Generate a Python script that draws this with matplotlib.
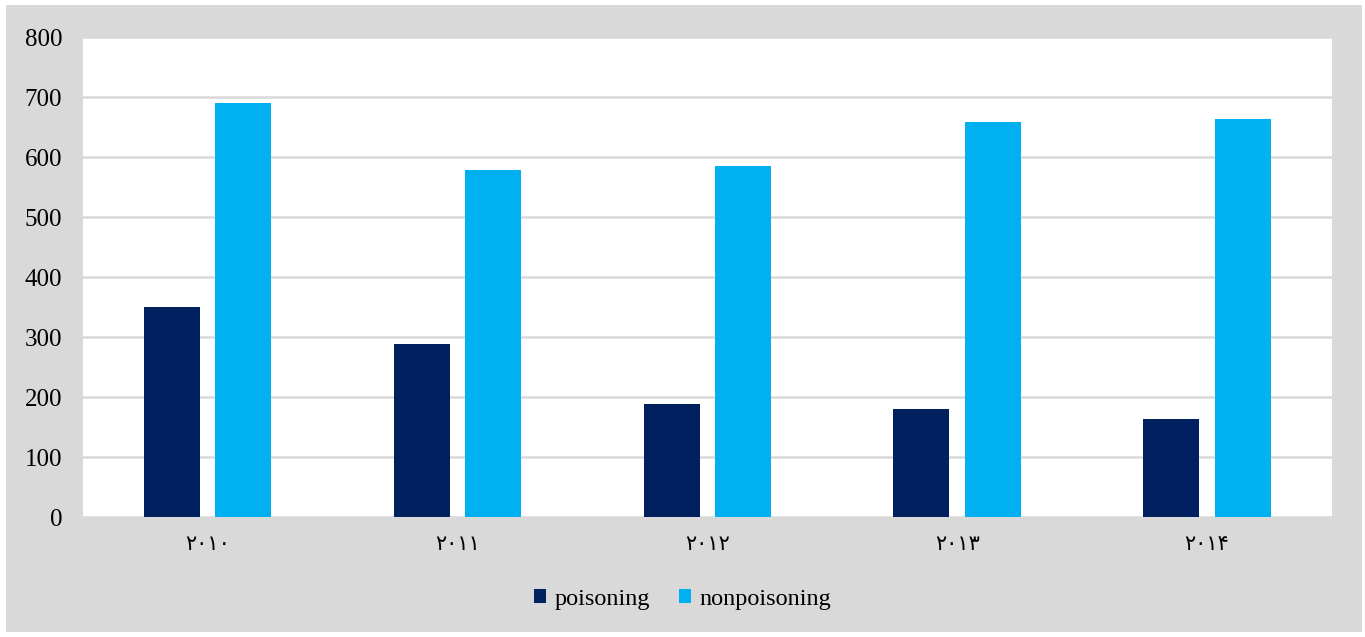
import numpy as np
import matplotlib.pyplot as plt
from matplotlib.patches import Rectangle

years = ["۲۰۱۰", "۲۰۱۱", "۲۰۱۲", "۲۰۱۳", "۲۰۱۴"]
poisoning = [350, 288, 188, 180, 163]
nonpoisoning = [690, 578, 585, 658, 663]
y_ticks = [0, 100, 200, 300, 400, 500, 600, 700, 800]

plt.rcParams["font.family"] = ["Liberation Serif", "DejaVu Sans"]

fig = plt.figure(figsize=(13.65, 6.37), dpi=100, facecolor="white")
# gray chart area with thin white margin
fig.patches.append(Rectangle((6 / 1365, 5 / 637), 1356 / 1365, 627 / 637,
                             transform=fig.transFigure, facecolor="#d9d9d9",
                             edgecolor="none", zorder=-10))

ax = fig.add_axes([83 / 1365, 120 / 637, 1249 / 1365, 480 / 637])
ax.set_facecolor("white")

x = np.arange(len(years))
w = 0.224
ax.bar(x - 0.144, poisoning, w, color="#002060", label="poisoning", zorder=3)
ax.bar(x + 0.142, nonpoisoning, w, color="#00b0f0", label="nonpoisoning", zorder=3)

ax.set_xlim(-0.5, len(years) - 0.5)
ax.set_ylim(0, 800)
ax.set_yticks(y_ticks)
ax.set_yticklabels([str(v) for v in y_ticks], fontsize=18)
ax.set_xticks(x)
ax.set_xticklabels(years, fontsize=15, family="DejaVu Sans")
ax.tick_params(length=0, pad=12)
ax.tick_params(axis="y", pad=15)
ax.yaxis.grid(True, color="#d9d9d9", linewidth=1.8, zorder=0)
for s in ax.spines.values():
    s.set_visible(False)

leg = fig.legend(loc="center", bbox_to_anchor=(0.5, 38 / 637), ncol=2,
                 frameon=False, fontsize=17.5, handlelength=0.5, handleheight=0.5,
                 handletextpad=0.35, columnspacing=1.2)

fig.savefig("out.png", dpi=100, facecolor=fig.get_facecolor())
